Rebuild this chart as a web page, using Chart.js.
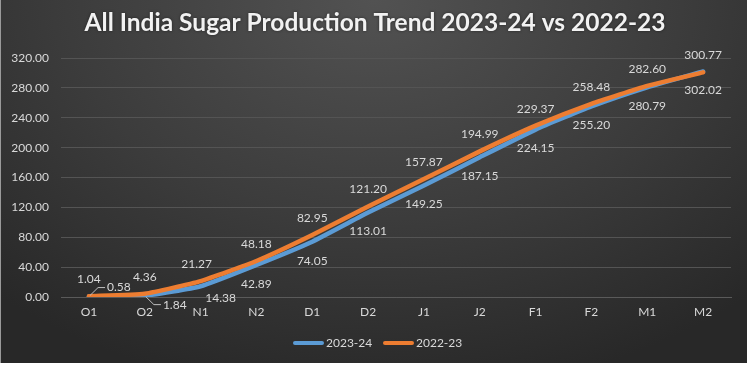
<!DOCTYPE html>
<html>
<head>
<meta charset="utf-8">
<script src="https://cdn.jsdelivr.net/npm/chart.js@4.4.1/dist/chart.umd.min.js"></script>
<style>
  html, body { margin: 0; padding: 0; background: #ffffff; width: 750px; height: 366px; overflow: hidden; }
  #box {
    position: absolute; left: 0; top: 0; width: 746px; height: 363px;
    border-left: 1px solid #9a9a9a;
    background: radial-gradient(ellipse 75% 110% at 50% 0%, #525252 0%, #3c3c3c 55%, #282828 100%);
  }
  canvas { display: block; }
</style>
</head>
<body>
<div id="box"><canvas id="c" width="746" height="363"></canvas></div>
<script>
// ---- data ----
const categories = ["O1", "O2", "N1", "N2", "D1", "D2", "J1", "J2", "F1", "F2", "M1", "M2"];
const series2324 = [0.58, 1.84, 14.38, 42.89, 74.05, 113.01, 149.25, 187.15, 224.15, 255.20, 280.79, 302.02];
const series2223 = [1.04, 4.36, 21.27, 48.18, 82.95, 121.20, 157.87, 194.99, 229.37, 258.48, 282.60, 300.77];
const seriesNames = ["2023-24", "2022-23"];
const titleText = "All India Sugar Production Trend 2023-24 vs 2022-23";

// ---- styles ----
const BLUE = "#5B9BD5";
const ORANGE = "#ED7D31";
const TEXT = "#d9d9d9";
const FONT = "Lato, 'Open Sans', sans-serif";

// label offsets (px) per dataset: default dy, plus per-point overrides with leader lines
const labelStyle = [
  { dy: 19, overrides: { 0: { dx: 30, dy: -9, leader: true }, 1: { dx: 30, dy: 9, leader: true }, 2: { dx: 20, dy: 12 } } },
  { dy: -17, overrides: { 2: { dx: -4, dy: -17 } } }
];

const labelsPlugin = {
  id: "dataLabels",
  afterDatasetsDraw(chart) {
    const ctx = chart.ctx;
    ctx.save();
    ctx.font = "12px " + FONT;
    ctx.fillStyle = TEXT;
    ctx.textAlign = "center";
    ctx.textBaseline = "middle";
    chart.data.datasets.forEach((ds, di) => {
      const meta = chart.getDatasetMeta(di);
      const st = labelStyle[di];
      meta.data.forEach((pt, i) => {
        const ov = st.overrides[i] || {};
        const dx = ov.dx || 0;
        const dy = ov.dy !== undefined ? ov.dy : st.dy;
        const txt = ds.data[i].toFixed(2);
        const tx = pt.x + dx, ty = pt.y + dy;
        if (ov.leader) {
          const w = ctx.measureText(txt).width;
          const ex = tx - w / 2 - 2;
          ctx.strokeStyle = "#bfbfbf";
          ctx.lineWidth = 1;
          ctx.beginPath();
          ctx.moveTo(pt.x + 1, pt.y + (dy < 0 ? -1 : 1));
          ctx.lineTo(ex - 7, ty);
          ctx.lineTo(ex, ty);
          ctx.stroke();
        }
        ctx.fillText(txt, tx, ty);
      });
    });
    ctx.restore();
  }
};

const decorPlugin = {
  id: "decor",
  afterDraw(chart) {
    const ctx = chart.ctx;
    ctx.save();
    // title
    ctx.font = "bold 24.5px " + FONT;
    ctx.fillStyle = "#f2f2f2";
    ctx.textAlign = "center";
    ctx.textBaseline = "middle";
    ctx.shadowColor = "rgba(0,0,0,0.5)";
    ctx.shadowBlur = 3;
    ctx.fillText(titleText, 374, 23);
    ctx.shadowColor = "transparent";
    ctx.shadowBlur = 0;
    // legend
    ctx.font = "12px " + FONT;
    ctx.textAlign = "left";
    ctx.fillStyle = TEXT;
    const items = [[seriesNames[0], BLUE, 292], [seriesNames[1], ORANGE, 382]];
    items.forEach(([name, col, x]) => {
      ctx.strokeStyle = col;
      ctx.lineWidth = 4;
      ctx.lineCap = "round";
      ctx.beginPath();
      ctx.moveTo(x + 2, 343);
      ctx.lineTo(x + 29, 343);
      ctx.stroke();
      ctx.fillText(name, x + 33, 343);
    });
    ctx.restore();
  }
};

new Chart(document.getElementById("c"), {
  type: "line",
  data: {
    labels: categories,
    datasets: [
      { label: seriesNames[0], data: series2324, borderColor: BLUE, backgroundColor: BLUE, borderWidth: 4.5, pointRadius: 0, tension: 0.15, order: 1, borderCapStyle: "round", borderJoinStyle: "round" },
      { label: seriesNames[1], data: series2223, borderColor: ORANGE, backgroundColor: ORANGE, borderWidth: 4.5, pointRadius: 0, tension: 0.15, order: 0, borderCapStyle: "round", borderJoinStyle: "round" }
    ]
  },
  options: {
    responsive: false,
    animation: false,
    layout: { padding: { top: 58, bottom: 36, left: 0, right: 16 } },
    plugins: { legend: { display: false }, title: { display: false }, tooltip: { enabled: false } },
    scales: {
      x: {
        offset: true,
        grid: { display: false, drawTicks: false },
        border: { display: true, color: "#5a5a5a" },
        ticks: { color: TEXT, font: { size: 12, family: FONT }, padding: 8, maxRotation: 0, autoSkip: false },
        afterFit(s) { s.height = 30; }
      },
      y: {
        min: 0, max: 320,
        grid: { color: "#545454", drawTicks: false },
        border: { display: false },
        ticks: { stepSize: 40, color: TEXT, font: { size: 12, family: FONT }, padding: 12, callback: v => v.toFixed(2) },
        afterFit(s) { s.width = 60; }
      }
    }
  },
  plugins: [labelsPlugin, decorPlugin]
});
</script>
</body>
</html>
